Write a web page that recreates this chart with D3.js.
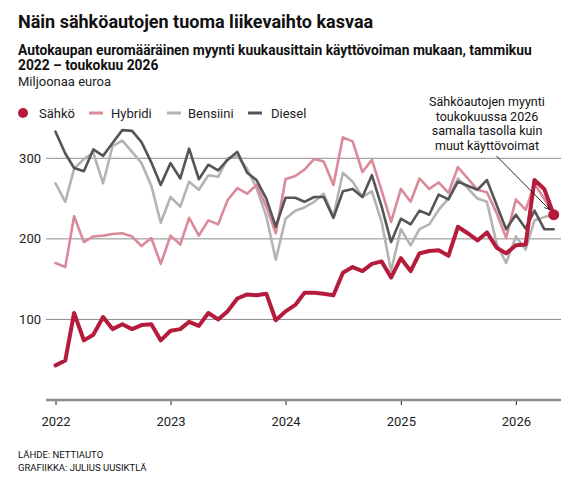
<!DOCTYPE html>
<html>
<head>
<meta charset="utf-8">
<script src="https://cdn.jsdelivr.net/npm/d3@7"></script>
<style>
  body { margin: 0; background: #fff; }
  svg { display: block; font-family: Roboto, "Noto Sans", sans-serif; }
</style>
</head>
<body>
<svg id="chart" width="588" height="484"></svg>
<script>
// ---- Data (million euros, monthly Jan 2022 – May 2026) ----
const startMonth = "2022-01";
const sahko = [43,49,108,74,81,103,88,94,88,93,94,74,86,88,97,92,108,100,110,126,131,130,132,99,110,118,133,133,132,130,158,165,160,169,172,152,176,160,182,185,186,179,215,207,198,208,189,182,192,193,273,262,230];
const hybridi = [170,165,228,196,203,204,206,207,203,191,201,169,204,193,226,204,223,218,248,263,256,267,240,207,274,278,286,299,296,267,326,321,283,298,260,221,262,246,275,262,270,257,289,275,261,258,232,201,249,236,268,250,230];
const bensiini = [269,246,287,299,307,269,315,322,308,294,266,220,252,240,271,261,279,277,300,303,287,263,228,174,225,235,239,246,256,228,282,271,252,259,221,160,212,192,212,218,236,250,275,263,250,246,194,170,203,187,223,227,230];
const diesel = [333,306,288,284,311,303,319,335,334,320,295,267,294,275,312,274,292,285,298,308,282,273,250,215,251,251,246,252,252,226,259,262,252,279,240,196,225,218,235,230,255,249,271,266,261,273,242,212,230,213,235,212,212];
const seriesNames = ["Sähkö","Hybridi","Bensiini","Diesel"];
const yTicks = [100,200,300];
const yearTicks = [2022,2023,2024,2025,2026];
const titleText = "Näin sähköautojen tuoma liikevaihto kasvaa";
const subtitleLines = ["Autokaupan euromääräinen myynti kuukausittain käyttövoiman mukaan, tammikuu","2022 – toukokuu 2026"];
const unitText = "Miljoonaa euroa";
const annotationLines = ["Sähköautojen myynti","toukokuussa 2026","samalla tasolla kuin","muut käyttövoimat"];
const sourceLines = ["LÄHDE: NETTIAUTO","GRAFIIKKA: JULIUS UUSIKTLÄ"];

// ---- Styles ----
const colors = { "Sähkö":"#b51b3b", "Hybridi":"#da8a98", "Bensiini":"#b3b3b3", "Diesel":"#555555" };
const widths = { "Sähkö":4, "Hybridi":2.6, "Bensiini":2.6, "Diesel":2.6 };

const svg = d3.select("#chart");
const parse = d3.timeParse("%Y-%m");
const t0 = parse(startMonth);
const dates = sahko.map((_, i) => d3.timeMonth.offset(t0, i));

const x = d3.scaleTime().domain([dates[0], dates[dates.length-1]]).range([55.5, 553.7]);
const y = d3.scaleLinear().domain([0, 300]).range([400, 158.3]);
const gridL = 46, gridR = 561;

// Title block
svg.append("text").attr("x",18).attr("y",28).attr("font-size",18).attr("font-weight",700).attr("fill","#111").text(titleText);
subtitleLines.forEach((s,i)=>{
  svg.append("text").attr("x",18).attr("y",55+i*14.5).attr("font-size",13.8).attr("font-weight",700).attr("fill","#111").text(s);
});
svg.append("text").attr("x",18).attr("y",86).attr("font-size",13).attr("fill","#222").text(unitText);

// Gridlines
const gy = svg.append("g");
gy.selectAll("line").data(yTicks).join("line")
  .attr("x1",gridL).attr("x2",gridR).attr("y1",d=>y(d)).attr("y2",d=>y(d))
  .attr("stroke","#8c8c8c").attr("stroke-width",1);
gy.selectAll("text").data(yTicks).join("text")
  .attr("x",41).attr("y",d=>y(d)+4.5).attr("text-anchor","end")
  .attr("font-size",13).attr("fill","#222").text(d=>d);

// X axis
const xAxis = d3.axisBottom(x)
  .tickValues(yearTicks.map(yr => new Date(yr,0,1)))
  .tickFormat(d3.timeFormat("%Y")).tickSize(5).tickPadding(12);
const gx = svg.append("g").attr("transform","translate(0,400)").call(xAxis);
gx.select(".domain").remove();
gx.selectAll(".tick line").attr("stroke","#222").attr("stroke-width",1);
gx.selectAll(".tick text").attr("font-size",13).attr("fill","#222").attr("font-family","Roboto, 'Noto Sans', sans-serif");
gx.append("line").attr("x1",gridL).attr("x2",gridR).attr("y1",0).attr("y2",0).attr("stroke","#8c8c8c").attr("stroke-width",2.5);

// Lines
const seriesData = { "Sähkö":sahko, "Hybridi":hybridi, "Bensiini":bensiini, "Diesel":diesel };
const line = d3.line().x((d,i)=>x(dates[i])).y(d=>y(d)).curve(d3.curveLinear);
["Bensiini","Hybridi","Diesel","Sähkö"].forEach(name=>{
  svg.append("path").datum(seriesData[name])
    .attr("d",line).attr("fill","none")
    .attr("stroke",colors[name]).attr("stroke-width",widths[name])
    .attr("stroke-linejoin","round").attr("stroke-linecap","round");
});
// End dot
const lastI = sahko.length-1;
svg.append("circle").attr("cx",x(dates[lastI])).attr("cy",y(sahko[lastI])).attr("r",5.5).attr("fill",colors["Sähkö"]);

// Legend
const legendY = 113;
const legendItems = [
  {name:"Sähkö", sx:23, tx:39, dot:true},
  {name:"Hybridi", sx:89, tx:111},
  {name:"Bensiini", sx:167, tx:188},
  {name:"Diesel", sx:248, tx:271}
];
const lg = svg.append("g");
legendItems.forEach(it=>{
  if (it.dot) {
    lg.append("circle").attr("cx",it.sx).attr("cy",legendY).attr("r",5).attr("fill",colors[it.name]);
  } else {
    lg.append("line").attr("x1",it.sx).attr("x2",it.sx+14).attr("y1",legendY).attr("y2",legendY)
      .attr("stroke",colors[it.name]).attr("stroke-width",3);
  }
  lg.append("text").attr("x",it.tx).attr("y",legendY+4.5).attr("font-size",13).attr("fill","#222").text(it.name);
});

// Annotation
annotationLines.forEach((s,i)=>{
  svg.append("text").attr("x",487).attr("y",106+i*14.6).attr("text-anchor","middle")
    .attr("font-size",12.5).attr("fill","#111").text(s);
});
svg.append("defs").append("marker").attr("id","arr").attr("viewBox","0 0 10 10")
  .attr("refX",9).attr("refY",5).attr("markerWidth",7).attr("markerHeight",7).attr("orient","auto")
  .append("path").attr("d","M0,1 L9,5 L0,9").attr("fill","none").attr("stroke","#111").attr("stroke-width",1.2);
svg.append("line").attr("x1",496.5).attr("y1",156).attr("x2",x(dates[lastI])-4).attr("y2",y(sahko[lastI])-5)
  .attr("stroke","#111").attr("stroke-width",0.9).attr("marker-end","url(#arr)");

// Source
sourceLines.forEach((s,i)=>{
  svg.append("text").attr("x",18).attr("y",458+i*12.5).attr("font-size",9.5).attr("fill","#111").text(s);
});
</script>
</body>
</html>
